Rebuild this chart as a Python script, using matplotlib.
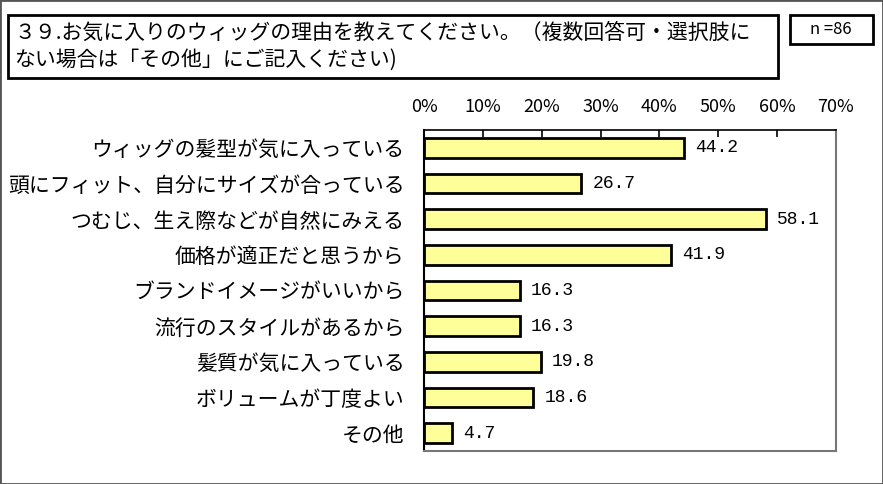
import matplotlib
matplotlib.use("Agg")
import matplotlib.pyplot as plt
from matplotlib.patches import Rectangle

plt.rcParams['font.family'] = ['Noto Sans CJK JP', 'DejaVu Sans']

categories = ["ウィッグの髪型が気に入っている", "頭にフィット、自分にサイズが合っている",
              "つむじ、生え際などが自然にみえる", "価格が適正だと思うから",
              "ブランドイメージがいいから", "流行のスタイルがあるから",
              "髪質が気に入っている", "ボリュームが丁度よい", "その他"]
values = [44.2, 26.7, 58.1, 41.9, 16.3, 16.3, 19.8, 18.6, 4.7]
xticks = [0, 10, 20, 30, 40, 50, 60, 70]
title_lines = ["３９.お気に入りのウィッグの理由を教えてください。（複数回答可・選択肢に",
               "ない場合は「その他」にご記入ください)"]
n_label = "n =86"

W, H = 883, 484
fig = plt.figure(figsize=(W / 100, H / 100), dpi=100)

def fx(px):
    return px / W

def fy(py):
    return 1 - py / H

# outer border
fig.patches.append(Rectangle((0, 0), 1, 1, transform=fig.transFigure,
                             fill=False, edgecolor="#555555", lw=2))
# title box
fig.patches.append(Rectangle((fx(8), fy(78)), fx(778) - fx(8), fy(15) - fy(78),
                             transform=fig.transFigure, fill=False, edgecolor="black", lw=2))
fig.text(fx(14), fy(33), title_lines[0], fontsize=15, va="center", ha="left")
fig.text(fx(14), fy(60), title_lines[1], fontsize=15, va="center", ha="left")
# n box
fig.patches.append(Rectangle((fx(790), fy(44)), fx(873) - fx(790), fy(15) - fy(44),
                             transform=fig.transFigure, fill=False, edgecolor="black", lw=2))
fig.text(fx(831), fy(29), n_label, fontsize=12, va="center", ha="center")

ax = fig.add_axes([fx(424), fy(451), fx(836) - fx(424), fy(130) - fy(451)])
pos = list(range(len(categories)))
ax.barh(pos, values, height=0.56, color="#FFFF99", edgecolor="black", lw=2)
for p, v in zip(pos, values):
    ax.annotate(f"{v:.1f}", (v, p), xytext=(8, 0), textcoords="offset points",
                va="center", ha="left", fontsize=13, family="Liberation Mono")

ax.set_xlim(0, 70)
ax.set_ylim(len(categories) - 0.5, -0.5)
ax.set_xticks(xticks)
ax.set_xticklabels([f"{t}%" for t in xticks], fontsize=13)
ax.xaxis.tick_top()
ax.tick_params(axis="x", direction="in", length=5, width=1.2, pad=10, top=True, bottom=False)
ax.set_yticks(pos)
ax.set_yticklabels(categories, fontsize=15)
ax.tick_params(axis="y", length=0, pad=14)
ax.spines["left"].set_linewidth(1.5)
ax.spines["top"].set_linewidth(1.2)
ax.spines["right"].set_color("#777777")
ax.spines["bottom"].set_color("#777777")
ax.spines["right"].set_linewidth(1.5)
ax.spines["bottom"].set_linewidth(1.5)

fig.savefig("out.png", dpi=100)
